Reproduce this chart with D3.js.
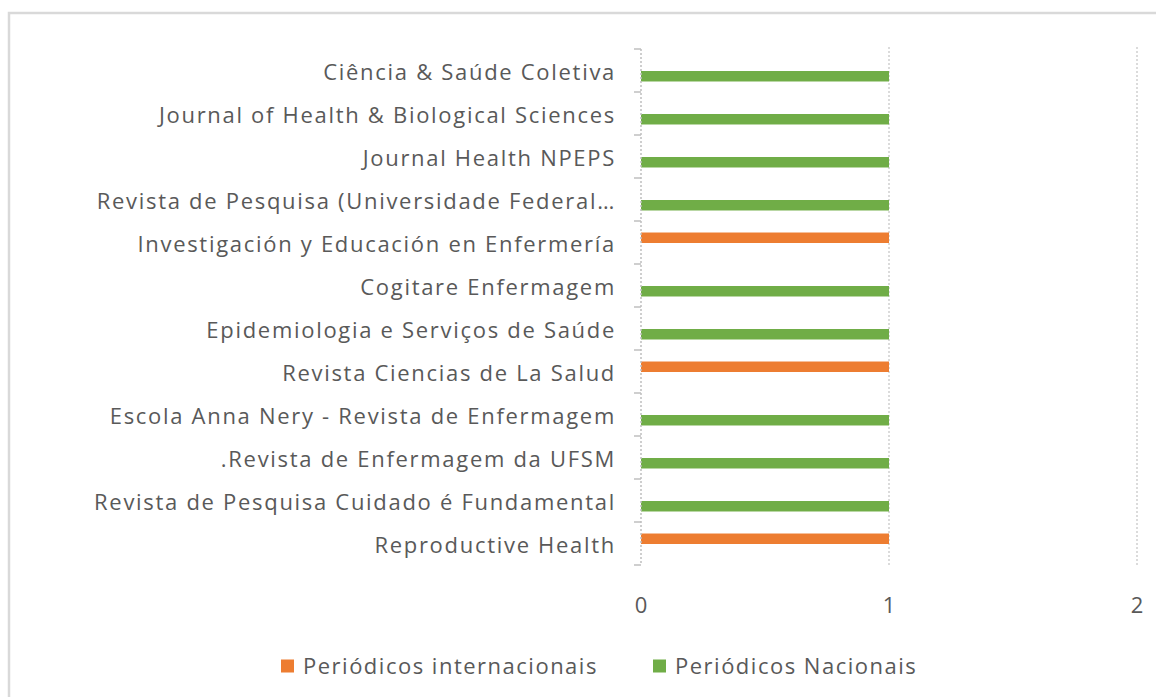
<!DOCTYPE html>
<html>
<head>
<meta charset="utf-8">
<script src="https://cdn.jsdelivr.net/npm/d3@7"></script>
<style>
  body { margin: 0; background: #fff; }
  text { font-family: "Open Sans", "Noto Sans", sans-serif; fill: #595959; }
</style>
</head>
<body>
<div id="chart"></div>
<script>
// Journals, top to bottom as shown
const categories = [
    "Ciência & Saúde Coletiva",
    "Journal of Health & Biological Sciences",
    "Journal Health NPEPS",
    "Revista de Pesquisa (Universidade Federal…",
    "Investigación y Educación en Enfermería",
    "Cogitare Enfermagem",
    "Epidemiologia e Serviços de Saúde",
    "Revista Ciencias de La Salud",
    "Escola Anna Nery - Revista de Enfermagem",
    ".Revista de Enfermagem da UFSM",
    "Revista de Pesquisa Cuidado é Fundamental",
    "Reproductive Health"
];
const seriesNames = ["Periódicos internacionais", "Periódicos Nacionais"];
const internacionais = [0, 0, 0, 0, 1, 0, 0, 1, 0, 0, 0, 1];
const nacionais = [1, 1, 1, 1, 0, 1, 1, 0, 1, 1, 1, 0];
const xTicks = [0, 1, 2];

const colors = ["#ed7d31", "#70ad47"];
const W = 1156, H = 697;

const svg = d3.select("#chart").append("svg")
    .attr("width", W)
    .attr("height", H);

// chart area border (cropped on right and bottom)
svg.append("rect")
    .attr("x", 9).attr("y", 13)
    .attr("width", 1160).attr("height", 700)
    .attr("fill", "none")
    .attr("stroke", "#d9d9d9")
    .attr("stroke-width", 2.5);

const x = d3.scaleLinear().domain([0, 2]).range([641, 1137]);
const y = d3.scaleBand().domain(categories).range([49, 565]).padding(0);
const ySub = d3.scaleBand().domain(seriesNames).range([0, y.bandwidth()]).paddingOuter(1.05).paddingInner(0);

// gridlines
svg.append("g")
    .selectAll("line")
    .data(xTicks.filter(d => d > 0))
    .join("line")
    .attr("x1", d => x(d)).attr("x2", d => x(d))
    .attr("y1", 47).attr("y2", 565)
    .attr("stroke", "#d0d0d0")
    .attr("stroke-width", 1.5)
    .attr("stroke-dasharray", "2,2");

// bars
const rows = categories.map((c, i) => ({ cat: c, vals: [internacionais[i], nacionais[i]] }));
const groups = svg.append("g").selectAll("g")
    .data(rows)
    .join("g")
    .attr("transform", d => `translate(0,${y(d.cat)})`);

groups.selectAll("rect")
    .data(d => d.vals.map((v, j) => ({ key: seriesNames[j], v, j })))
    .join("rect")
    .attr("x", x(0))
    .attr("y", d => ySub(d.key) + 0.5)
    .attr("width", d => x(d.v) - x(0))
    .attr("height", ySub.bandwidth())
    .attr("fill", d => colors[d.j]);

// category axis
const yAxis = d3.axisLeft(y).tickSize(0).tickPadding(25);
const gy = svg.append("g")
    .attr("transform", `translate(${x(0)},2)`)
    .call(yAxis);
gy.select(".domain").remove();
gy.selectAll("text")
    .style("font-size", "22px")
    .style("letter-spacing", "1.7px")
    .attr("fill", "#595959");

// axis line and boundary ticks
svg.append("line")
    .attr("x1", x(0)).attr("x2", x(0))
    .attr("y1", 49).attr("y2", 565)
    .attr("stroke", "#bfbfbf")
    .attr("stroke-width", 1.5)
    .attr("stroke-dasharray", "2,2");
const bounds = categories.map(c => y(c)).concat([y.range()[1]]);
svg.append("g").selectAll("line")
    .data(bounds)
    .join("line")
    .attr("x1", x(0) - 7).attr("x2", x(0))
    .attr("y1", d => d).attr("y2", d => d)
    .attr("stroke", "#bfbfbf")
    .attr("stroke-width", 1.5);

// value axis labels
svg.append("g").selectAll("text")
    .data(xTicks)
    .join("text")
    .attr("x", d => x(d))
    .attr("y", 605)
    .attr("dy", "0.35em")
    .attr("text-anchor", "middle")
    .style("font-size", "22px")
    .text(d => d);

// legend
const legendX = [281, 653];
const legend = svg.append("g").selectAll("g")
    .data(seriesNames)
    .join("g")
    .attr("transform", (d, i) => `translate(${legendX[i]},666)`);
legend.append("rect")
    .attr("x", 0).attr("y", -6.5)
    .attr("width", 13).attr("height", 13)
    .attr("fill", (d, i) => colors[i]);
legend.append("text")
    .attr("x", 22)
    .attr("dy", "0.35em")
    .style("font-size", "22px")
    .style("letter-spacing", "1.5px")
    .text(d => d);
</script>
</body>
</html>
